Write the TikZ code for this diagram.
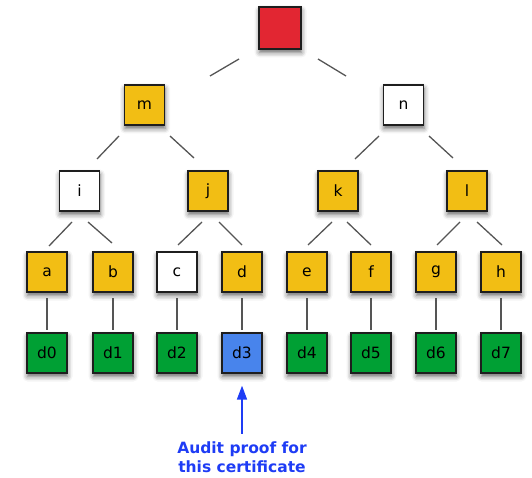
\documentclass[tikz,border=0pt]{standalone}
\usepackage{fontspec}
\setmainfont{DejaVu Sans}
\usetikzlibrary{calc,shadows.blur,arrows.meta}

\definecolor{hashgold}{RGB}{242,190,20}
\definecolor{rootred}{RGB}{226,38,50}
\definecolor{leafgreen}{RGB}{0,160,52}
\definecolor{proofblue}{RGB}{72,132,236}
\definecolor{notebl}{RGB}{30,60,245}
\definecolor{edgegray}{RGB}{85,85,85}
\definecolor{boxline}{RGB}{30,30,30}

\tikzset{
  hbox/.style={draw=boxline, line width=1.3pt, minimum size=40pt, inner sep=0pt,
    font=\fontsize{15.5}{15.5}\selectfont,
    blur shadow={shadow xshift=0.5pt, shadow yshift=-3.5pt, shadow blur radius=5pt, shadow opacity=60}},
  gold/.style={hbox, fill=hashgold},
  blank/.style={hbox, fill=white},
  green/.style={hbox, fill=leafgreen},
  edge/.style={draw=edgegray, line width=1.3pt},
}

% a parent-to-child link, given as offsets from the two box centres
\newcommand{\treelink}[6]{\draw[edge] ($(#1)+(#2,#3)$) -- ($(#4)+(#5,#6)$);}

\begin{document}
\begin{tikzpicture}[x=1pt,y=-1pt]
\useasboundingbox (0,0) rectangle (532,478);

% hash tree
\node[hbox, fill=rootred, minimum size=42pt] (root) at (280,28) {};
\node[gold]  (m) at (144.5,105) {m};
\node[blank] (n) at (403.5,105) {n};
\node[blank] (i) at (79.5,191) {i};
\node[gold]  (j) at (208,191) {j};
\node[gold]  (k) at (338,191) {k};
\node[gold]  (l) at (467,191) {l};
\foreach \name/\x/\sty in {a/47/gold, b/113/gold, c/177/blank, d/242/gold,
                           e/307/gold, f/371/gold, g/436/gold, h/501/gold}
  {\node[\sty] (\name) at (\x,272) {\name};}

% data blocks
\foreach \name/\x in {d0/47, d1/113, d2/177, d4/307, d5/371, d6/436, d7/501}
  {\node[green] (\name) at (\x,353) {\name};}
\node[hbox, fill=proofblue] (d3) at (242,353) {d3};

% links between levels
\treelink{root}{-41}{31}{m}{65.5}{-29}
\treelink{root}{38}{31}{n}{-57.5}{-29}
\treelink{m}{-25.5}{31}{i}{17.5}{-32}
\treelink{m}{25.5}{31}{j}{-14}{-33}
\treelink{n}{-24.5}{31}{k}{17}{-32}
\treelink{n}{25.5}{31}{l}{-14}{-33}
\treelink{i}{-7.5}{31}{a}{2}{-26}
\treelink{i}{8.5}{31}{b}{-1}{-29}
\treelink{j}{-6}{31}{c}{1}{-27}
\treelink{j}{11}{31}{d}{0}{-27}
\treelink{k}{-6}{31}{e}{1}{-27}
\treelink{k}{9}{31}{f}{0}{-27}
\treelink{l}{-7}{31}{g}{1}{-27}
\treelink{l}{10}{31}{h}{1}{-27}
\foreach \u/\v in {a/d0, b/d1, c/d2, d/d3, e/d4, f/d5, g/d6, h/d7}
  {\treelink{\u}{0}{26}{\v}{0}{-23}}

% annotation
\node[text=notebl, font=\bfseries\fontsize{15.5}{19}\selectfont, align=center]
  (note) at (242,457) {Audit proof for\\this certificate};
\draw[notebl, line width=1.6pt, -{Triangle[width=10pt,length=14pt]},
      shorten <=4pt, shorten >=12pt] (note.north) -- (d3.south);
\end{tikzpicture}
\end{document}
